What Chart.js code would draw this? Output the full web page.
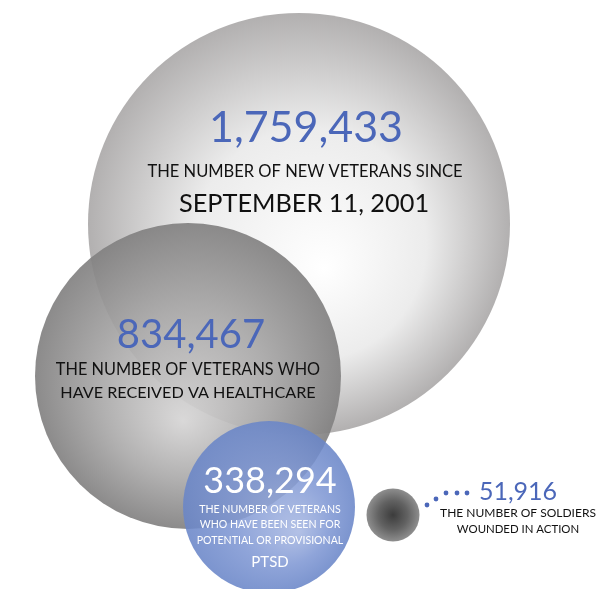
<!DOCTYPE html>
<html>
<head>
<meta charset="utf-8">
<script src="https://cdn.jsdelivr.net/npm/chart.js@4/dist/chart.umd.min.js"></script>
<style>
  html, body { margin: 0; padding: 0; background: #ffffff; }
  canvas { display: block; }
</style>
</head>
<body>
<canvas id="veterans" width="599" height="589"></canvas>
<script>
const categories = ['New veterans since Sept 11, 2001', 'Received VA healthcare', 'Seen for potential or provisional PTSD', 'Wounded in action'];
const counts = [1759433, 834467, 338294, 51916];
const bubbleX = [299, 188, 269, 393];
const bubbleY = [224, 376, 507, 515];
const bubbleR = [211, 153, 86, 26.5];

const captions = [
  ['THE NUMBER OF NEW VETERANS SINCE', 'SEPTEMBER 11, 2001'],
  ['THE NUMBER OF VETERANS WHO', 'HAVE RECEIVED VA HEALTHCARE'],
  ['THE NUMBER OF VETERANS', 'WHO HAVE BEEN SEEN FOR', 'POTENTIAL OR PROVISIONAL', 'PTSD'],
  ['THE NUMBER OF SOLDIERS', 'WOUNDED IN ACTION'],
];

const FONT = 'Lato, "Open Sans", sans-serif';
const BLUE = '#4b67b9';

// gradient stops for each bubble: [highlight dx, dy, inner colour, mid colour, edge colour]
const fills = [
  [25, 45, 'rgba(255,255,255,1)', 'rgba(236,236,236,1)', 'rgba(178,176,176,1)'],
  [-5, 45, 'rgba(214,213,213,0.92)', 'rgba(170,169,169,0.92)', 'rgba(130,129,129,0.92)'],
  [30, 25, 'rgba(168,184,226,0.88)', 'rgba(128,152,212,0.88)', 'rgba(106,134,200,0.88)'],
  [0, 0, 'rgba(60,60,60,1)', 'rgba(98,98,98,1)', 'rgba(142,142,142,1)'],
];

function bubbleFill(ctx) {
  const chart = ctx.chart;
  const i = ctx.dataIndex;
  if (i === undefined || !chart.scales.x) return 'rgba(0,0,0,0)';
  const cx = chart.scales.x.getPixelForValue(bubbleX[i]);
  const cy = chart.scales.y.getPixelForValue(bubbleY[i]);
  if (!isFinite(cx) || !isFinite(cy)) return fills[i][4];
  const r = bubbleR[i];
  const f = fills[i];
  const g = chart.ctx.createRadialGradient(cx + f[0], cy + f[1], 0, cx, cy, r);
  g.addColorStop(0, f[2]);
  g.addColorStop(0.55, f[3]);
  g.addColorStop(1, f[4]);
  return g;
}

// text blocks: [dx, dy, text, size, colour] relative to bubble centre
function textBlocks(i) {
  const num = counts[i].toLocaleString('en-US');
  const c = captions[i];
  if (i === 0) return [
    [7, -82, num, 43, BLUE],
    [6, -47, c[0], 16.5, '#111'],
    [5, -12, c[1], 25.3, '#111'],
  ];
  if (i === 1) return [
    [3, -28, num, 40, BLUE],
    [0, -1, c[0], 16.3, '#111'],
    [0, 22, c[1], 16.2, '#111'],
  ];
  if (i === 2) return [
    [1, -14, num, 36, '#ffffff'],
    [1, 6, c[0], 10.6, '#ffffff'],
    [1, 21, c[1], 10.6, '#ffffff'],
    [1, 37, c[2], 10.6, '#ffffff'],
    [1, 60, c[3], 15, '#ffffff'],
  ];
  return [
    [125, -15, num, 25, BLUE],
    [125, 2, c[0], 12, '#111'],
    [125, 18, c[1], 11.4, '#111'],
  ];
}

const labelPlugin = {
  id: 'bubbleLabels',
  afterDatasetsDraw(chart) {
    const ctx = chart.ctx;
    const meta = chart.getDatasetMeta(0);
    ctx.save();
    ctx.textAlign = 'center';
    ctx.textBaseline = 'alphabetic';
    meta.data.forEach((pt, i) => {
      textBlocks(i).forEach(t => {
        ctx.font = t[3] + 'px ' + FONT;
        ctx.fillStyle = t[4];
        ctx.fillText(t[2], pt.x + t[0], pt.y + t[1]);
      });
    });
    // leader dots from the small bubble to its number
    const last = meta.data[meta.data.length - 1];
    const dots = [[34, -10], [43, -16], [53, -22], [64, -22], [74, -22]];
    ctx.fillStyle = BLUE;
    dots.forEach(d => {
      ctx.beginPath();
      ctx.arc(last.x + d[0], last.y + d[1], 2.4, 0, Math.PI * 2);
      ctx.fill();
    });
    ctx.restore();
  }
};

const chart = new Chart(document.getElementById('veterans').getContext('2d'), {
  type: 'bubble',
  data: {
    labels: categories,
    datasets: [{
      label: 'Veterans',
      data: counts.map((v, i) => ({ x: bubbleX[i], y: bubbleY[i], r: bubbleR[i], v: v })),
      backgroundColor: bubbleFill,
      borderWidth: 0,
      hoverBorderWidth: 0,
      clip: false,
    }],
  },
  options: {
    responsive: false,
    animation: false,
    events: [],
    layout: { padding: 0, autoPadding: false },
    scales: {
      x: { display: false, min: 0, max: 599 },
      y: { display: false, min: 0, max: 589, reverse: true },
    },
    plugins: {
      legend: { display: false },
      tooltip: { enabled: false },
    },
  },
  plugins: [labelPlugin],
});
chart.update();
</script>
</body>
</html>
